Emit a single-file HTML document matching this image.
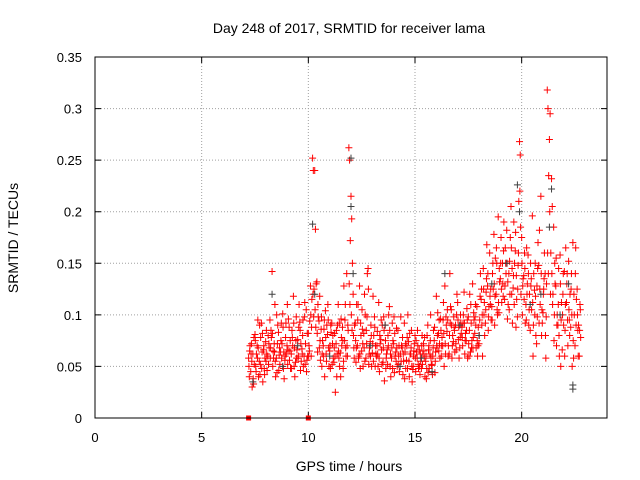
<!DOCTYPE html>
<html><head><meta charset="utf-8"><style>
body{margin:0;background:#fff;}
svg{display:block;font-family:"Liberation Sans",sans-serif;}
</style></head><body>
<svg id="chart" width="640" height="480">
<text x="349" y="33" font-size="14" text-anchor="middle">Day 248 of 2017, SRMTID for receiver lama</text>
<text x="349" y="471" font-size="14" text-anchor="middle">GPS time / hours</text>
<text transform="translate(18,238) rotate(-90)" font-size="14" text-anchor="middle">SRMTID / TECUs</text>
<g id="grid"></g><g id="ticks"></g><g id="marks"></g>
<rect x="95" y="57" width="512" height="361" fill="none" stroke="#000"/>
</svg>
<script>
const xTicks=[0,5,10,15,20];
const yTicks=[0,0.05,0.1,0.15,0.2,0.25,0.3,0.35];
const yTickLabels=["0","0.05","0.1","0.15","0.2","0.25","0.3","0.35"];
const hours=[];for(let i=0;i<156;i++)hours.push(+(7.2+i*0.1).toFixed(1));
const seriesA=[.058,.045,.062,.081,.070,.055,.092,.066,.074,.060,.095,.142,.072,.058,.083,.064,.101,.056,.070,.088,.062,.118,.054,.076,.093,.067,.060,.105,.082,.128,.252,.240,.132,.094,.086,.070,.104,.081,.065,.092,.054,.072,.110,.063,.088,.075,.140,.262,.215,.120,.092,.070,.128,.065,.082,.058,.145,.074,.063,.098,.060,.112,.076,.054,.090,.066,.108,.058,.072,.064,.085,.050,.068,.092,.056,.074,.062,.047,.080,.058,.066,.048,.072,.055,.090,.062,.051,.075,.118,.082,.096,.070,.128,.084,.062,.105,.074,.090,.112,.068,.088,.122,.075,.098,.064,.130,.082,.108,.072,.115,.145,.092,.128,.160,.108,.178,.120,.195,.135,.150,.115,.182,.140,.205,.126,.162,.098,.268,.175,.138,.110,.158,.085,.196,.124,.072,.148,.215,.102,.140,.318,.270,.232,.185,.128,.090,.158,.066,.142,.112,.152,.088,.170,.070,.125,.060];
const seriesB=[.040,.072,.033,.050,.095,.042,.064,.048,.085,.052,.068,.050,.110,.044,.061,.092,.048,.078,.052,.065,.085,.050,.098,.060,.046,.080,.112,.056,.070,.060,.240,.183,.064,.118,.050,.086,.062,.095,.048,.072,.082,.040,.058,.096,.048,.110,.060,.250,.193,.068,.054,.110,.048,.086,.120,.072,.052,.090,.118,.050,.084,.045,.066,.098,.048,.080,.050,.092,.044,.087,.060,.098,.042,.064,.078,.040,.085,.060,.045,.070,.042,.080,.058,.038,.066,.100,.060,.044,.068,.095,.060,.112,.062,.095,.140,.058,.088,.066,.076,.100,.070,.062,.106,.060,.092,.078,.110,.060,.095,.090,.100,.122,.085,.110,.140,.090,.150,.102,.175,.118,.165,.096,.152,.120,.190,.088,.148,.255,.100,.160,.165,.090,.128,.060,.150,.098,.182,.080,.125,.058,.300,.295,.205,.100,.070,.145,.050,.120,.085,.140,.095,.140,.058,.165,.085,.110];
const seriesC=[.070,.030,.052,.062,.040,.078,.035,.058,.046,.068,.078,.058,.040,.090,.052,.072,.038,.062,.096,.048,.070,.040,.066,.110,.055,.050,.072,.060,.094,.115,.125,.130,.098,.056,.075,.040,.090,.050,.083,.058,.025,.090,.050,.070,.128,.060,.085,.172,.150,.090,.110,.060,.080,.050,.100,.140,.068,.050,.080,.062,.050,.072,.090,.036,.062,.100,.040,.075,.060,.050,.045,.070,.055,.048,.100,.062,.035,.072,.064,.048,.055,.062,.040,.080,.048,.052,.085,.064,.102,.058,.078,.050,.090,.070,.108,.080,.064,.120,.058,.082,.100,.082,.058,.120,.075,.095,.068,.088,.140,.060,.080,.168,.108,.095,.125,.155,.100,.132,.112,.190,.140,.110,.175,.092,.150,.115,.210,.120,.135,.092,.130,.120,.105,.140,.080,.170,.110,.092,.160,.130,.235,.160,.120,.130,.100,.060,.112,.090,.165,.070,.120,.050,.100,.115,.090,.078];
const seriesD=[.050,.062,.038,.075,.058,.090,.048,.070,.055,.080,.058,.082,.064,.100,.046,.075,.088,.060,.110,.056,.048,.092,.075,.058,.085,.062,.098,.045,.060,.100,.120,.105,.082,.068,.098,.060,.078,.110,.070,.052,.068,.085,.065,.040,.075,.095,.070,.130,.100,.080,.075,.095,.062,.105,.068,.085,.125,.060,.072,.088,.070,.058,.095,.068,.075,.052,.085,.068,.098,.055,.052,.062,.078,.038,.070,.055,.068,.050,.058,.085,.050,.070,.065,.060,.044,.075,.042,.088,.070,.065,.085,.095,.072,.105,.080,.090,.098,.072,.095,.078,.078,.092,.085,.072,.110,.068,.098,.075,.080,.125,.125,.105,.140,.118,.095,.130,.165,.112,.150,.130,.128,.150,.105,.165,.138,.180,.125,.220,.150,.115,.095,.140,.150,.112,.100,.128,.092,.140,.120,.080,.160,.200,.140,.075,.155,.110,.130,.100,.060,.130,.105,.125,.075,.140,.100,.085];
const seriesE=[.065,.055,.078,.045,.068,.052,.082,.042,.062,.072,.085,.065,.055,.072,.068,.058,.064,.092,.066,.075,.078,.068,.058,.088,.072,.095,.052,.082,.065,.088,.098,.088,.110,.075,.062,.095,.055,.068,.090,.080,.060,.062,.092,.078,.055,.068,.090,.110,.085,.058,.068,.058,.092,.072,.055,.098,.062,.080,.055,.070,.062,.080,.052,.085,.058,.070,.062,.048,.082,.068,.070,.055,.062,.072,.048,.082,.050,.065,.075,.052,.062,.052,.078,.048,.070,.058,.068,.055,.080,.072,.070,.082,.098,.060,.092,.070,.085,.100,.088,.092,.092,.075,.095,.085,.068,.102,.090,.070,.118,.100,.112,.135,.098,.125,.150,.118,.105,.145,.125,.162,.150,.132,.120,.145,.110,.138,.160,.185,.128,.145,.120,.105,.135,.090,.118,.145,.125,.105,.135,.098,.140,.120,.110,.150,.090,.080,.095,.140,.110,.095,.080,.100,.120,.090,.060,.105];
const zeroHours=[7.2,10.0];
const zeroValues=[0,0];
const grayHours=[7.4,8.3,8.8,9.5,10.2,10.3,11.0,12.0,12.0,12.1,12.9,13.6,14.3,15.3,15.8,16.4,17.1,18.0,18.6,19.3,19.8,19.9,20.4,20.9,21.3,21.4,21.8,22.2,22.4,22.4];
const grayValues=[.035,.12,.05,.07,.188,.12,.06,.252,.205,.14,.07,.09,.05,.058,.045,.14,.09,.08,.13,.15,.226,.20,.11,.12,.185,.222,.10,.13,.028,.032];

const X=h=>95+h*512/24, Y=v=>418-v*361/0.35;
const NS="http://www.w3.org/2000/svg";
const grid=document.getElementById('grid'),ticks=document.getElementById('ticks'),marks=document.getElementById('marks');
function mk(t,a,p){const e=document.createElementNS(NS,t);for(const k in a)e.setAttribute(k,a[k]);p.appendChild(e);return e;}
xTicks.forEach(t=>{
  if(t>0){const g=mk('line',{x1:X(t),x2:X(t),y1:57,y2:418,stroke:'#a0a0a0','stroke-dasharray':'1,2'},grid);
  
  }
  const tk=mk('path',{d:`M${X(t)},418v-6M${X(t)},57v6`,stroke:'#000'},ticks);
  
  
  const l=mk('text',{x:X(t),y:442,'font-size':13,'text-anchor':'middle'},ticks);l.textContent=t;
  
  
});
yTicks.forEach((t,i)=>{
  if(i>0&&i<yTicks.length-1){const g=mk('line',{x1:95,x2:607,y1:Y(t),y2:Y(t),stroke:'#a0a0a0','stroke-dasharray':'1,2'},grid);
  
  }
  const tk=mk('path',{d:`M95,${Y(t)}h6M607,${Y(t)}h-6`,stroke:'#000'},ticks);
  
  
  const l=mk('text',{x:82,y:Y(t)+5,'font-size':13,'text-anchor':'end'},ticks);l.textContent=yTickLabels[i];
  
  
});
function plus(h,v,color,name){
  const x=X(h),y=Y(v);
  const p=mk('path',{d:`M${x-3.5},${y}h7M${x},${y-3.5}v7`,stroke:color,'stroke-width':1},marks);
  
  
}
[[seriesA,0],[seriesD,0.016],[seriesB,0.033],[seriesE,0.05],[seriesC,0.066]].forEach(([s,o])=>s.forEach((v,i)=>plus(hours[i]+o,v,'#ff0000','srmtid-point')));
zeroHours.forEach((h,i)=>{
  const r=mk('rect',{x:X(h)-2.5,y:Y(zeroValues[i])-2.5,width:5,height:5,fill:'#ff0000'},marks);
  
  
});
grayHours.forEach((h,i)=>plus(h,grayValues[i],'#404040','gray-point'));
</script>
</body></html>
